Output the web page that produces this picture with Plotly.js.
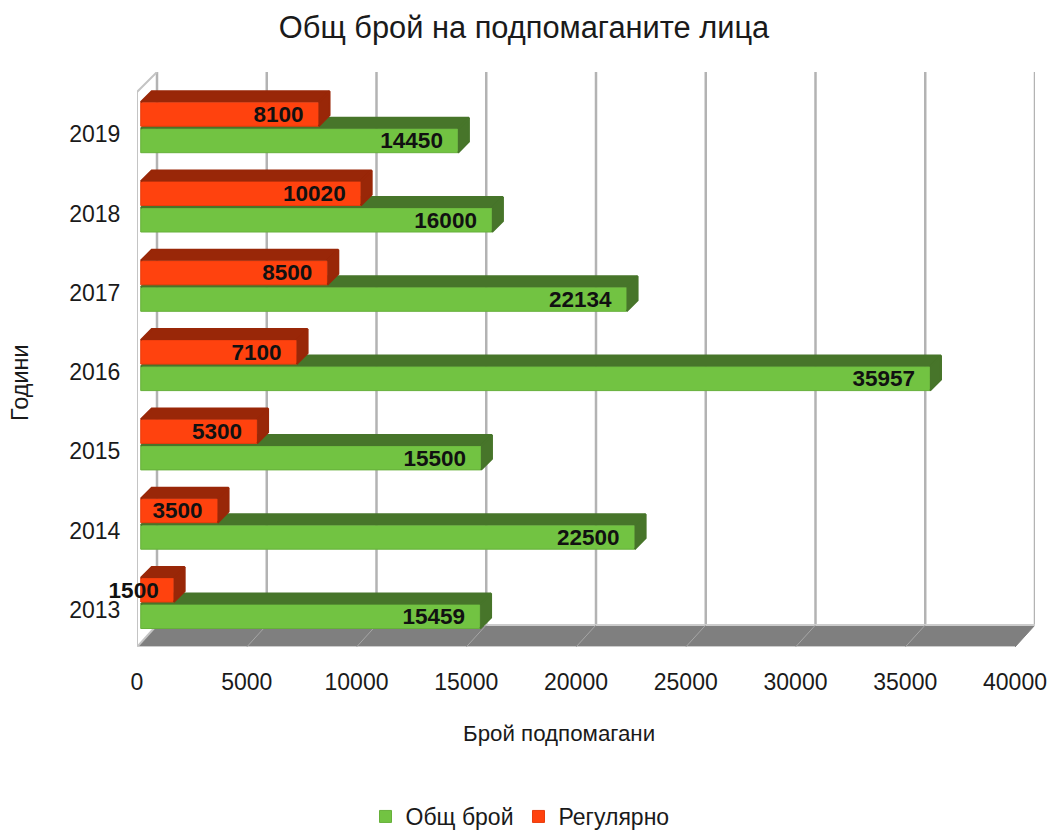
<!DOCTYPE html>
<html><head><meta charset="utf-8">
<script src="https://cdn.plot.ly/plotly-3.0.1.min.js"></script>
<style>html,body{margin:0;padding:0;background:#fff}#c{width:1050px;height:832px}</style>
</head><body><div id="c"></div>
<script>
const years = ['2013','2014','2015','2016','2017','2018','2019'];
const total = [15459,22500,15500,35957,22134,16000,14450];
const regular = [1500,3500,5300,7100,8500,10020,8100];
const xTicks = [0,5000,10000,15000,20000,25000,30000,35000,40000];
const seriesNames = ['Общ брой','Регулярно'];

const FONT='"Liberation Sans",Arial,sans-serif', TXT='#1a1a1a';
const idx = years.map((_,i)=>i);
const L=137,R=15,T=72,B=185, W=1050-L-R, H=832-T-B;
const ux=40911/W, uy=1/79.3;
const xMax=40911, yMin=-37*uy, yMax=538*uy;
const wallDx=20*ux, wallDy=22*uy, barD=11*ux, barDy=11*uy;
const base=170, barW=24*uy;
const offG=-6.5*uy-barW/2, offO=20*uy-barW/2;

function flat(segments){const xs=[],ys=[];segments.forEach(s=>{s.forEach(p=>{xs.push(p[0]);ys.push(p[1]);});xs.push(null);ys.push(null);});return {x:xs,y:ys};}
function fillTrace(segs,color,xa,ya,lw){const f=flat(segs);return {type:'scatter',mode:'lines',x:f.x,y:f.y,fill:'toself',fillcolor:color,line:{color:color,width:lw===undefined?1:lw},xaxis:xa,yaxis:ya,showlegend:false,hoverinfo:'skip'};}
function lineTrace(segs,color,width){const f=flat(segs);return {type:'scatter',mode:'lines',x:f.x,y:f.y,line:{color:color,width:width},xaxis:'x',yaxis:'y',showlegend:false,hoverinfo:'skip',cliponaxis:false};}
function topFaces(vals,off){return vals.map((v,i)=>{const y=i+off+barW,x0=base,x1=base+v;return [[x0,y],[x0+barD,y+barDy],[x1+barD,y+barDy],[x1,y]];});}
function sideFaces(vals,off){return vals.map((v,i)=>{const y0=i+off,y1=y0+barW,x=base+v;return [[x,y0],[x+barD,y0+barDy],[x+barD,y1+barDy],[x,y1]];});}
function barTrace(name,vals,off,color,xa,ya,edge){return {type:'bar',orientation:'h',name:name,x:vals,y:idx,base:vals.map(()=>base),width:vals.map(()=>barW),offset:vals.map(()=>off),marker:{color:color,line:{color:edge,width:1}},xaxis:xa,yaxis:ya,hoverinfo:'x+name'};}
function labelTrace(vals,off,xa,ya){return {type:'scatter',mode:'text',x:vals.map(v=>base+v-15*ux),y:idx.map(i=>i+off+barW/2-2*uy),text:vals.map(String),textposition:'middle left',textfont:{family:FONT,size:22.5,color:'#111',weight:700},xaxis:xa,yaxis:ya,showlegend:false,hoverinfo:'skip',cliponaxis:false};}

const floor=[[[0,yMin],[40000,yMin],[40000+wallDx,yMin+wallDy],[wallDx,yMin+wallDy]]];
const backGrid=xTicks.map(v=>[[v+wallDx,yMin+wallDy],[v+wallDx,yMax]]);
const floorGrid=xTicks.slice(1,-1).map(v=>[[v,yMin],[v+wallDx,yMin+wallDy]]);
const wallEdge=[[[0,yMin],[0,yMax-20*uy],[wallDx,yMax]],[[0,yMin],[wallDx,yMin+wallDy]]];
const floorBack=[[[wallDx,yMin+wallDy],[40000+wallDx,yMin+wallDy]],[[0,yMin],[40000,yMin]]];

const G='#72c342',GD='#47752a',O='#ff420e',OD='#992708';
const data=[
 fillTrace(floor,'#7f7f7f','x','y'),
 lineTrace(backGrid,'#b3b3b3',2.5),
 lineTrace(wallEdge,'#c4c4c4',2),
 lineTrace(floorBack,'#cccccc',2),
 lineTrace(floorGrid,'#a6a6a6',1),
 barTrace(seriesNames[0],total,offG,G,'x2','y2','#66b03a'),
 fillTrace(topFaces(total,offG),GD,'x2','y2',2),
 fillTrace(sideFaces(total,offG),GD,'x2','y2',2),
 labelTrace(total,offG,'x2','y2'),
 barTrace(seriesNames[1],regular,offO,O,'x3','y3','#e83c0d'),
 fillTrace(topFaces(regular,offO),OD,'x3','y3',2),
 fillTrace(sideFaces(regular,offO),OD,'x3','y3',2),
 labelTrace(regular,offO,'x3','y3')
];
const hiddenX={overlaying:'x',range:[0,xMax],visible:false,fixedrange:true};
const hiddenY={overlaying:'y',range:[yMin,yMax],visible:false,fixedrange:true};
const layout={
 width:1050,height:832,paper_bgcolor:'#fff',plot_bgcolor:'#fff',
 margin:{l:L,r:R,t:T,b:B,pad:0,autoexpand:false},
 barmode:'overlay',
 font:{family:FONT,color:TXT},
 title:{text:'Общ брой на подпомаганите лица',font:{family:FONT,size:30.8,color:TXT},x:524/1050,xanchor:'center',y:1-27/832,yanchor:'middle'},
 xaxis:{range:[0,xMax],tickvals:xTicks,ticktext:xTicks.map(String),showgrid:false,zeroline:false,showline:false,ticks:'outside',ticklen:14,tickcolor:'rgba(0,0,0,0)',tickfont:{family:FONT,size:23,color:TXT},fixedrange:true},
 yaxis:{range:[yMin,yMax],tickvals:idx,ticktext:years,showgrid:false,zeroline:false,showline:false,ticks:'outside',ticklen:11,tickcolor:'rgba(0,0,0,0)',tickfont:{family:FONT,size:23,color:TXT},fixedrange:true},
 xaxis2:hiddenX,yaxis2:Object.assign({},hiddenY,{anchor:'x2'}),
 xaxis3:hiddenX,yaxis3:Object.assign({},hiddenY,{anchor:'x3'}),
 legend:{orientation:'h',x:(520-L)/W,xanchor:'center',y:(647-795)/H,yanchor:'top',font:{family:FONT,size:23,color:TXT},bgcolor:'rgba(0,0,0,0)',traceorder:'normal'},
 annotations:[
  {text:'Брой подпомагани',xref:'paper',yref:'paper',x:(559-L)/W,y:(647-733)/H,xanchor:'center',yanchor:'middle',showarrow:false,font:{family:FONT,size:22.3,color:TXT}},
  {text:'Години',xref:'paper',yref:'paper',x:(20-L)/W,y:(647-383)/H,xanchor:'center',yanchor:'middle',textangle:-90,showarrow:false,font:{family:FONT,size:23.5,color:TXT}}
 ]
};
Plotly.newPlot('c',data,layout,{displayModeBar:false});
</script></body></html>
